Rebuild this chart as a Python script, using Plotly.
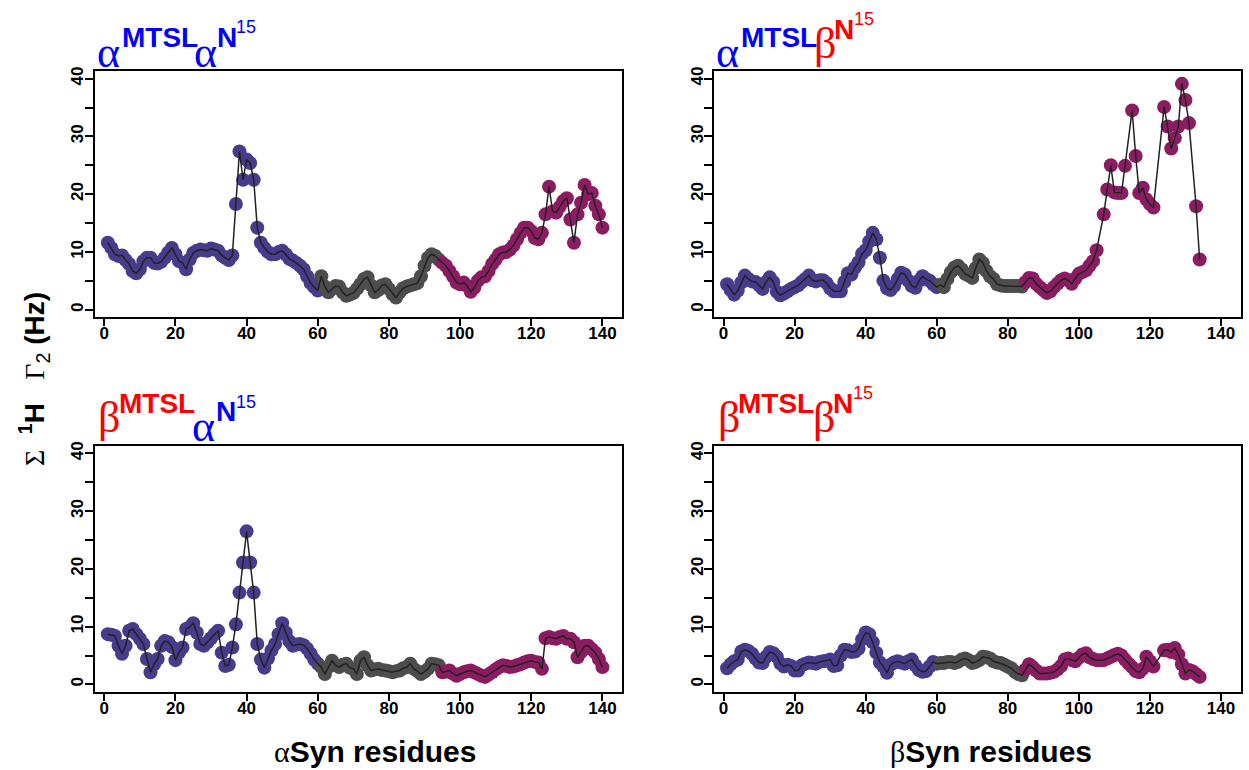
import plotly.graph_objects as go

W, H = 1249, 770

# ---------------- data (Sum 1H Gamma2, Hz) ----------------
aMTSL_aN15 = [
    11.6, 10.7, 9.6, 9.3, 9.4, 8.6, 7.9, 6.7, 6.3, 7.0,
    8.4, 9.0, 9.0, 8.1, 8.0, 8.3, 9.0, 9.9, 10.7, 9.6,
    8.4, 8.1, 7.0, 8.7, 9.8, 10.2, 10.4, 10.3, 10.2, 10.6,
    10.4, 10.2, 9.4, 9.0, 8.6, 9.4, 18.3, 27.4, 22.5, 26.0,
    25.4, 22.5, 14.2, 11.6, 10.7, 10.0, 9.6, 9.6, 10.0, 10.2,
    9.6, 8.8, 8.5, 8.1, 7.6, 7.0, 5.8, 4.6, 3.9, 3.3,
    5.8, 4.0, 3.0, 3.6, 4.1, 4.0, 3.0, 2.4, 2.6, 2.9,
    3.6, 4.4, 5.3, 5.6, 4.2, 3.0, 3.4, 4.2, 4.4, 3.6,
    2.7, 2.1, 3.0, 3.7, 4.0, 4.2, 4.4, 4.6, 5.8, 7.6,
    9.0, 9.6, 9.3, 8.7, 8.1, 7.6, 6.7, 5.8, 4.7, 4.4,
    4.7, 4.1, 3.1, 3.8, 5.0, 5.6, 5.8, 6.7, 7.9, 8.7,
    9.6, 9.9, 10.0, 10.4, 11.1, 12.2, 13.3, 14.2, 14.2, 13.6,
    12.4, 12.2, 13.3, 16.5, 21.3, 17.0, 16.8, 17.8, 18.8, 19.3,
    15.6, 11.6, 16.5, 18.5, 21.6, 20.0, 20.2, 18.0, 16.5, 14.2,
]

aMTSL_bN15 = [
    4.4, 3.4, 2.6, 3.3, 4.7, 5.9, 5.3, 4.9, 4.8, 4.2,
    3.6, 4.8, 5.6, 4.8, 3.1, 2.5, 2.8, 3.2, 3.6, 3.9,
    4.2, 4.8, 5.3, 5.9, 5.1, 4.9, 5.1, 5.1, 4.6, 3.7,
    3.2, 3.2, 3.2, 4.8, 6.3, 6.1, 7.3, 8.2, 9.7, 10.3,
    11.8, 13.3, 12.2, 9.0, 5.0, 3.7, 3.4, 4.1, 5.3, 6.4,
    6.1, 5.0, 4.1, 3.8, 5.0, 5.8, 5.3, 5.0, 4.4, 3.9,
    4.3, 3.9, 5.3, 6.5, 7.3, 7.6, 7.0, 6.2, 5.9, 5.5,
    7.2, 8.7, 8.1, 6.7, 5.8, 5.3, 4.4, 4.2, 4.1, 4.1,
    4.1, 4.1, 4.1, 4.0, 4.8, 5.5, 5.4, 4.5, 3.9, 3.4,
    2.9, 3.2, 3.9, 4.5, 5.1, 5.4, 5.1, 4.5, 5.4, 6.2,
    6.5, 6.8, 7.6, 8.4, 10.3, None, 16.5, 20.8, 25.0, 20.3,
    20.2, 20.2, 24.9, None, 34.5, 26.6, 20.2, 21.1, 19.1, 18.3,
    17.7, None, None, 35.1, 31.7, 27.9, 29.7, 31.7, 39.1, 36.3,
    32.3, None, 17.9, 8.7,
]

bMTSL_aN15 = [
    8.7, 8.6, 8.4, 6.7, 5.3, 6.7, 9.3, 9.6, 8.7, 7.9,
    7.0, 4.4, 2.1, 3.5, 4.4, 6.7, 7.5, 7.3, 6.5, 4.2,
    5.5, 6.4, 9.6, 9.9, 10.6, 9.0, 7.0, 6.7, 7.3, 8.0,
    8.7, 9.3, 5.5, 3.2, 3.4, 6.4, 10.4, 15.9, 21.1, 26.5,
    21.1, 15.9, 7.0, 4.3, 2.9, 4.5, 5.9, 7.0, 8.7, 10.6,
    9.0, 7.5, 6.7, 6.9, 7.0, 6.8, 6.2, 5.3, 4.3, 3.6,
    3.0, 1.8, 3.0, 4.1, 3.3, 3.0, 3.4, 3.6, 2.9, 2.7,
    1.8, 4.1, 4.7, 3.3, 2.4, 2.6, 2.7, 2.5, 2.4, 2.3,
    2.1, 2.3, 2.4, 2.8, 3.0, 3.6, 2.7, 2.3, 1.8, 2.2,
    2.7, 3.6, 3.5, 3.3, 2.1, 2.2, 2.4, 1.9, 1.5, 1.8,
    2.1, 2.3, 2.4, 2.1, 1.8, 1.5, 1.3, 1.7, 2.1, 2.6,
    3.0, 3.3, 3.2, 3.0, 3.1, 3.3, 3.5, 3.8, 4.0, 4.1,
    3.9, 3.8, 2.7, 8.0, 8.2, 8.0, 7.9, 8.2, 8.4, 7.9,
    7.9, 7.3, 4.7, 5.6, 6.7, 6.7, 6.1, 5.5, 4.4, 3.0,
]

bMTSL_bN15 = [
    2.8, 3.5, 4.0, 4.3, 5.7, 6.0, 5.8, 5.3, 4.5, 3.8,
    3.7, 4.8, 5.6, 5.4, 4.8, 3.6, 3.1, 3.4, 3.2, 2.4,
    2.4, 3.3, 3.6, 3.8, 3.7, 3.6, 3.9, 4.0, 4.1, 4.3,
    3.2, 3.3, 5.0, 6.0, 5.9, 5.6, 5.7, 6.2, 7.8, 9.0,
    8.7, 7.3, 5.5, 3.8, 3.1, 2.0, 3.4, 3.8, 4.0, 3.8,
    3.6, 4.0, 4.3, 3.3, 2.5, 2.2, 2.3, 3.1, 3.9, 3.6,
    3.7, 3.7, 3.9, 3.9, 3.7, 3.9, 4.3, 4.5, 4.2, 3.7,
    3.9, 4.2, 4.8, 4.7, 4.5, 4.0, 3.8, 3.7, 3.4, 3.1,
    2.8, 2.2, 1.8, 1.6, 2.6, 3.5, 3.0, 2.4, 1.9, 1.9,
    1.9, 2.0, 2.2, 2.6, 3.2, 4.3, 4.5, 4.2, 4.0, 4.6,
    5.2, 5.4, 4.7, 4.4, 4.2, 4.2, 4.2, 4.5, 4.8, 5.1,
    5.3, 5.0, 4.3, 3.6, 3.0, 2.3, 2.1, 2.7, 4.8, 4.0,
    3.1, None, None, 5.9, 6.0, 5.6, 6.3, 5.2, 3.5, 1.9,
    2.5, 2.3, 1.8, 1.3,
]

# domain boundaries (residue ranges): N-term, NAC, C-term
alpha_regions = [(1, 60), (61, 94), (95, 140)]
beta_regions = [(1, 60), (61, 84), (85, 134)]
region_colors = ["#473C8B", "#4D4D4D", "#8B1C62"]

x_tickvals = [0, 20, 40, 60, 80, 100, 120, 140]
y_tickvals = [0, 5, 10, 15, 20, 25, 30, 35, 40]
y_ticklabels = ["0", "", "10", "", "20", "", "30", "", "40"]

x_range = [-2.6, 145.5]
y_range = [-1.33, 41.33]

BLUE = "#0000FF"
RED = "#FF0000"
TICKFONT = "Liberation Sans Narrow, Arial Narrow, Liberation Sans, Arial, sans-serif"
GREEK = "Liberation Serif, Times New Roman, serif"
SANS = "Liberation Sans, Arial, Helvetica, sans-serif"

# panel boxes in pixels: (left, top, right, bottom)
panels = [
    (aMTSL_aN15, alpha_regions, (95, 67.3, 622, 315)),
    (aMTSL_bN15, beta_regions, (714.3, 67.3, 1240.5, 315)),
    (bMTSL_aN15, alpha_regions, (95, 444, 622, 691.7)),
    (bMTSL_bN15, beta_regions, (714.3, 444, 1240.5, 691.7)),
]

fig = go.Figure()
layout = {}
for i, (vals, regions, (l, t, r, b)) in enumerate(panels, start=1):
    xa = "x" if i == 1 else f"x{i}"
    ya = "y" if i == 1 else f"y{i}"
    res = list(range(1, len(vals) + 1))
    for (a, z), col in zip(regions, region_colors):
        xs = [k for k in res if a <= k <= z and vals[k - 1] is not None]
        ys = [vals[k - 1] for k in xs]
        fig.add_trace(go.Scatter(x=xs, y=ys, mode="markers",
                                 marker=dict(size=14, color=col, line=dict(width=0)),
                                 xaxis=xa, yaxis=ya, showlegend=False, hoverinfo="skip"))
    fig.add_trace(go.Scatter(x=res, y=vals, mode="lines", connectgaps=True,
                             line=dict(color="#222222", width=1.5),
                             xaxis=xa, yaxis=ya, showlegend=False, hoverinfo="skip"))
    xkey = "xaxis" if i == 1 else f"xaxis{i}"
    ykey = "yaxis" if i == 1 else f"yaxis{i}"
    layout[xkey] = dict(
        domain=[l / W, r / W], range=x_range, anchor=ya,
        tickmode="array", tickvals=x_tickvals,
        ticktext=[f"<b>{v}</b>" for v in x_tickvals],
        ticks="outside", ticklen=7, tickwidth=1.5, tickcolor="black",
        showline=True, mirror=True, linewidth=2, linecolor="black",
        showgrid=False, zeroline=False, ticklabelstandoff=-8,
        tickfont=dict(family=TICKFONT, size=17, color="black"),
    )
    layout[ykey] = dict(
        domain=[1 - b / H, 1 - t / H], range=y_range, anchor=xa,
        tickmode="array", tickvals=y_tickvals,
        ticktext=[f"<b>{v}</b>" if v else "" for v in y_ticklabels],
        ticks="outside", ticklen=8, tickwidth=1.5, tickcolor="black", tickangle=-90,
        showline=True, mirror=True, linewidth=2, linecolor="black",
        showgrid=False, zeroline=False, ticklabelstandoff=-5,
        tickfont=dict(family=TICKFONT, size=17, color="black"),
    )

annotations = []


def piece(text, x_left, baseline, size, color, family):
    cy = baseline - 0.34 * size
    annotations.append(dict(text=text, x=x_left / W, y=1 - cy / H, xref="paper", yref="paper",
                            xanchor="left", yanchor="middle", showarrow=False,
                            font=dict(size=size, color=color, family=family)))


G, S1, S2 = 44, 28, 18
# top-left: alpha^MTSL alpha^N15
piece("α", 95, 64, G, BLUE, GREEK)
piece("<b>MTSL</b>", 120, 43, S1, BLUE, SANS)
piece("α", 192, 64, G, BLUE, GREEK)
piece("<b>N</b>", 215, 43, S1, BLUE, SANS)
piece("15", 234, 29, S2, BLUE, SANS)
# top-right: alpha^MTSL beta^N15
piece("α", 713.5, 64, G, BLUE, GREEK)
piece("<b>MTSL</b>", 739, 43, S1, BLUE, SANS)
piece("β", 811.5, 55, G, RED, GREEK)
piece("<b>N</b>", 832, 35.5, S1, RED, SANS)
piece("15", 852, 21.5, S2, RED, SANS)
# bottom-left: beta^MTSL alpha^N15
piece("β", 96, 431, G, RED, GREEK)
piece("<b>MTSL</b>", 116.5, 411, S1, RED, SANS)
piece("α", 190, 439.5, G, BLUE, GREEK)
piece("<b>N</b>", 214, 419.6, S1, BLUE, SANS)
piece("15", 234, 405.8, S2, BLUE, SANS)
# bottom-right: beta^MTSL beta^N15
piece("β", 715.5, 431, G, RED, GREEK)
piece("<b>MTSL</b>", 735.5, 411, S1, RED, SANS)
piece("β", 810.5, 431, G, RED, GREEK)
piece("<b>N</b>", 831, 411, S1, RED, SANS)
piece("15", 851, 397, S2, RED, SANS)

# x titles
for cx, g in [(375, "α"), (991, "β")]:
    annotations.append(dict(
        text=f"<span style='font-family:{GREEK}'>{g}</span><b>Syn residues</b>",
        x=cx / W, y=1 - 751 / H, xref="paper", yref="paper",
        xanchor="center", yanchor="middle", showarrow=False,
        font=dict(size=30, color="black", family=TICKFONT)))

# y title
annotations.append(dict(
    text=(f"<span style='font-family:{GREEK}'>Σ</span>  <sup><b>1</b></sup><b>H</b>   "
          f"<span style='font-family:{GREEK}'>Γ</span><sub>2</sub> <b>(Hz)</b>"),
    x=34 / W, y=1 - 377 / H, xref="paper", yref="paper", textangle=-90,
    xanchor="center", yanchor="middle", showarrow=False,
    font=dict(size=28, color="black", family=SANS)))

fig.update_layout(
    width=W, height=H, margin=dict(l=0, r=0, t=0, b=0),
    paper_bgcolor="white", plot_bgcolor="white",
    annotations=annotations, **layout,
)

fig.write_html("out.html", config={"displayModeBar": False})
